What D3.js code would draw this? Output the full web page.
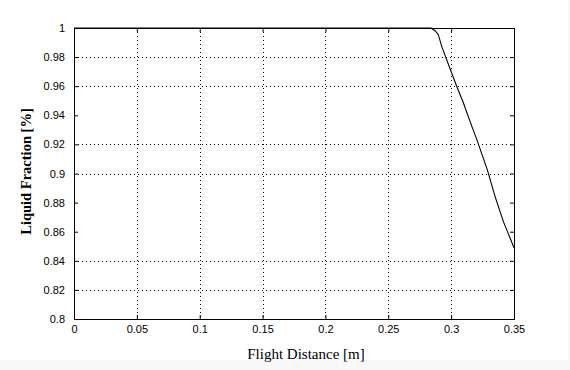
<!DOCTYPE html>
<html>
<head>
<meta charset="utf-8">
<script src="https://cdn.jsdelivr.net/npm/d3@7"></script>
<style>
  html, body { margin: 0; padding: 0; background: #f9f9f9; }
  svg { display: block; }
  .tick-label { font-family: "Liberation Sans", Arial, sans-serif; font-size: 11px; fill: #000; }
  .axis-title { font-family: "Liberation Serif", "Times New Roman", serif; fill: #000; }
</style>
</head>
<body>
<svg id="chart"></svg>
<script>
// data
const distance = [0, 0.05, 0.1, 0.15, 0.2, 0.25, 0.284, 0.2872, 0.2898, 0.2925, 0.2959, 0.2999,
    0.3044, 0.3097, 0.3164, 0.3208, 0.3288, 0.3349, 0.3415, 0.35];
const liquidFraction = [1, 1, 1, 1, 1, 1, 1, 0.9981, 0.9954, 0.9874, 0.9795, 0.9703,
    0.96, 0.9486, 0.9326, 0.9224, 0.9025, 0.8843, 0.8671, 0.849];
const xTicks = [0, 0.05, 0.1, 0.15, 0.2, 0.25, 0.3, 0.35];
const yTicks = [0.8, 0.82, 0.84, 0.86, 0.88, 0.9, 0.92, 0.94, 0.96, 0.98, 1];
// some horizontal grid lines are not visible in the original
const yGrid = [0.82, 0.84, 0.9, 0.92, 0.96, 0.98];
const xLabel = "Flight Distance [m]";
const yLabel = "Liquid Fraction [%]";

const W = 570, H = 370;
const margin = {top: 28, right: 56, bottom: 51, left: 74};
const w = W - margin.left - margin.right;
const h = H - margin.top - margin.bottom;

const svg = d3.select("#chart").attr("width", W).attr("height", H);
svg.append("rect").attr("width", 568).attr("height", 360).attr("fill", "#fff");

const g = svg.append("g").attr("transform", "translate(" + margin.left + "," + margin.top + ")");

const x = d3.scaleLinear().domain([0, 0.35]).range([0, w]);
const y = d3.scaleLinear().domain([0.8, 1]).range([h, 0]);

// dotted grid
g.append("g").selectAll("line").data(xTicks.slice(1, -1)).enter().append("line")
    .attr("x1", d => Math.round(x(d)) + 0.5).attr("x2", d => Math.round(x(d)) + 0.5)
    .attr("y1", 0).attr("y2", h)
    .attr("stroke", "#000").attr("stroke-dasharray", "1,3");
g.append("g").selectAll("line").data(yGrid).enter().append("line")
    .attr("y1", d => Math.round(y(d)) + 0.5).attr("y2", d => Math.round(y(d)) + 0.5)
    .attr("x1", 0).attr("x2", w)
    .attr("stroke", "#000").attr("stroke-dasharray", "1,3");

// axes, ticks pointing inward on all four sides
const fmt = d => d3.format("~g")(d);
const axB = g.append("g").attr("transform", "translate(0," + h + ")")
    .call(d3.axisBottom(x).tickValues(xTicks).tickSize(-4).tickPadding(6).tickFormat(fmt));
const axL = g.append("g")
    .call(d3.axisLeft(y).tickValues(yTicks).tickSize(-4).tickPadding(9).tickFormat(fmt));
const axT = g.append("g")
    .call(d3.axisTop(x).tickValues(xTicks).tickSize(-4).tickFormat(""));
const axR = g.append("g").attr("transform", "translate(" + w + ",0)")
    .call(d3.axisRight(y).tickValues(yTicks).tickSize(-4).tickFormat(""));
[axB, axL, axT, axR].forEach(a => {
    a.select(".domain").remove();
    a.selectAll("line").attr("stroke", "#000");
    a.selectAll("text").attr("class", "tick-label").attr("font-family", null).attr("font-size", null);
});

// frame
g.append("rect").attr("x", 0.5).attr("y", 0.5).attr("width", w).attr("height", h)
    .attr("fill", "none").attr("stroke", "#000");

// data line
const line = d3.line().x(d => x(d[0])).y(d => y(d[1]));
g.append("path")
    .datum(distance.map((d, i) => [d, liquidFraction[i]]))
    .attr("d", line).attr("fill", "none").attr("stroke", "#000").attr("stroke-width", 1.1);

// titles
svg.append("text").attr("class", "axis-title")
    .attr("x", 306).attr("y", 359)
    .attr("text-anchor", "middle").attr("font-size", 15)
    .text(xLabel);
svg.append("text").attr("class", "axis-title")
    .attr("transform", "translate(31," + (margin.top + h / 2 - 2) + ") rotate(-90)")
    .attr("text-anchor", "middle").attr("font-size", 14.5).attr("font-weight", "bold")
    .text(yLabel);
</script>
</body>
</html>
